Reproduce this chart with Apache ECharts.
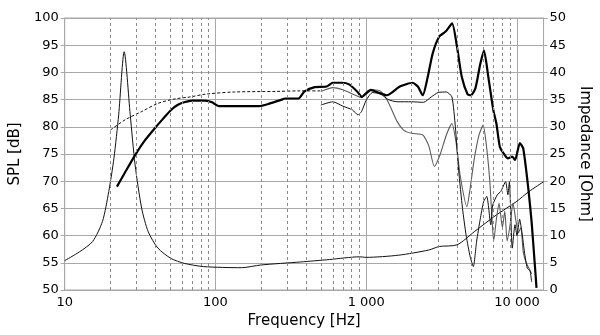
<!DOCTYPE html>
<html><head><meta charset="utf-8">
<script src="https://cdn.jsdelivr.net/npm/echarts@6/dist/echarts.min.js"></script>
<style>html,body{margin:0;padding:0;background:#fff}#c{width:600px;height:335px}</style>
</head><body><div id="c"></div>
<script>
// ---- data ----
const xMin = 10, xMax = 15000;
const xTickLabels = {10:'10', 100:'100', 1000:'1 000', 10000:'10 000'};
const minorGridFreqs = [20,30,40,50,60,70,80,90,200,300,400,500,600,700,800,900,2000,3000,4000,5000,6000,7000,8000,9000];

// on-axis SPL (thick)
const mainFreq = [22.2,25,29.3,34,39.5,45,50.7,56,62,70,85,95,105,150,195,230,270,290,355,390,455,545,600,690,770,870,935,1000,1070,1200,1370,1670,2030,2200,2370,2550,2760,3050,3360,3710,4000,4300,4700,4940,5300,5700,6040,6450,6960,7300,7700,8300,8700,9300,9700,10450,11000,11880,12490,13130,13470];
const mainSpl  = [69.0,71.5,74.8,77.5,79.7,81.5,83.1,84.0,84.5,84.8,84.8,84.5,83.8,83.8,83.8,84.3,84.9,85.2,85.2,86.5,87.3,87.4,88.1,88.1,87.8,86.5,85.5,86.2,86.8,86.3,85.8,87.4,88.1,87.4,85.8,89.0,93.5,96.6,97.5,99.0,94.7,89.2,86.0,85.8,87.1,91.5,94.0,89.2,83.1,80.6,76.3,74.8,74.2,74.5,73.9,77.0,76.0,68.7,62.6,54.6,50.4];

// low-frequency simulated / nearfield (dashed)
const dashFreq = [20.1,25.2,32.4,41.5,53.2,68.3,85.9,134,250,365,500];
const dashSpl  = [79.4,81.3,82.8,84.3,85.1,85.5,86.0,86.4,86.5,86.6,86.6];

// off-axis black (thin)
const offAFreq = [500,600,700,810,880,930,1000,1100,1250,1400,1600,2000,2400,2700,3000,3400,3700,3900,4100,4350,4600,4900,5130,5400,5700,6000,6300,6700,6900,7400,7800,8400,8700,8900,9300,9700,10000,10400,10800,11200,11700,12200,12500];
const offASpl  = [84.0,84.6,83.8,83.1,82.2,82.8,84.9,86.3,86.0,85.0,84.6,84.6,84.5,85.5,86.3,86.4,85.5,80.0,72.0,65.0,60.0,56.0,54.3,59.0,63.0,66.2,67.2,62.0,65.6,67.5,68.1,69.9,67.5,69.9,57.7,62.0,60.0,63.0,60.5,57.0,54.0,53.5,51.5];

// off-axis gray (thin)
const offBFreq = [500,600,700,850,930,1000,1100,1250,1400,1600,1770,2000,2370,2600,2830,3100,3400,3700,3950,4200,4650,4850,5200,5600,5960,6300,6600,6800,7000,7300,7600,8000,8300,8600,9000,9400,9800,10200,10600,11000,11500,12000,12500];
const offBSpl  = [86.5,87.2,86.8,85.8,85.4,86.0,86.8,86.5,84.5,81.0,79.4,78.8,78.5,76.5,72.7,75.0,78.5,80.6,77.0,71.0,65.3,68.0,74.0,78.5,80.3,76.0,70.0,64.0,59.0,63.0,66.0,61.5,64.5,59.0,62.0,66.0,63.0,60.5,61.5,57.0,55.0,54.0,53.0];

// impedance (right axis)
const impFreq = [10,12.5,15.3,17.8,19.6,21.2,22.8,24.8,27.2,29.3,32.4,35.8,41.5,50.7,62,83.5,149,200,365,570,900,1000,1640,2600,3050,4000,5200,7300,9860,12000,15000];
const impOhm  = [5.4,7.0,8.9,12.6,18.1,24.2,32.2,43.8,32.2,23.0,15.0,10.7,7.7,5.8,4.9,4.3,4.1,4.6,5.15,5.6,6.1,6.0,6.4,7.35,8.0,8.3,10.7,13.8,16.2,18.1,19.9];

const zip = (a, b) => a.map((v, i) => [v, b[i]]);

const font = 'DejaVu Sans';
const gridGray = '#a8a8a8';
const chart = echarts.init(document.getElementById('c'), null, {renderer: 'canvas'});
chart.setOption({
  animation: false,
  backgroundColor: '#fff',
  grid: {left: 60, right: 52, top: 18, bottom: 45, show: true, borderColor: gridGray, borderWidth: 1},
  xAxis: {
    type: 'log', logBase: 10, min: xMin, max: xMax,
    name: 'Frequency [Hz]', nameLocation: 'middle', nameGap: 23,
    nameTextStyle: {fontFamily: font, fontSize: 15, color: '#000'},
    axisLine: {show: true, lineStyle: {color: gridGray}},
    axisTick: {show: false},
    splitLine: {show: true, lineStyle: {color: gridGray, width: 1}},
    axisLabel: {fontFamily: font, fontSize: 13, color: '#000', margin: 6, showMaxLabel: false,
      formatter: v => xTickLabels[Math.round(v)] || ''}
  },
  yAxis: [{
    type: 'value', min: 50, max: 100, interval: 5, position: 'left',
    name: 'SPL [dB]', nameLocation: 'middle', nameGap: 40, nameRotate: 90,
    nameTextStyle: {fontFamily: font, fontSize: 15, color: '#000'},
    axisLine: {show: true, lineStyle: {color: gridGray}},
    axisTick: {show: true, length: 4, lineStyle: {color: gridGray}},
    splitLine: {show: true, lineStyle: {color: gridGray, width: 1}},
    axisLabel: {fontFamily: font, fontSize: 13, color: '#000', margin: 6}
  }, {
    type: 'value', min: 0, max: 50, interval: 5, position: 'right',
    name: 'Impedance [Ohm]', nameLocation: 'middle', nameGap: 33, nameRotate: -90,
    nameTextStyle: {fontFamily: font, fontSize: 15, color: '#000'},
    axisLine: {show: true, lineStyle: {color: gridGray}},
    axisTick: {show: true, length: 4, lineStyle: {color: gridGray}},
    splitLine: {show: false},
    axisLabel: {fontFamily: font, fontSize: 13, color: '#000', margin: 6}
  }],
  series: [
    {type: 'line', data: [], silent: true,
     markLine: {silent: true, symbol: 'none', label: {show: false},
       lineStyle: {color: '#8a8a8a', type: [3, 3], width: 1},
       data: minorGridFreqs.map(f => ({xAxis: f}))}},
    {type: 'line', name: 'imp', yAxisIndex: 1, data: zip(impFreq, impOhm), showSymbol: false, smooth: 0.25,
     lineStyle: {color: '#111', width: 1}},
    {type: 'line', name: 'dash', data: zip(dashFreq, dashSpl), showSymbol: false, smooth: 0.3,
     lineStyle: {color: '#111', width: 1, type: [3, 2]}},
    {type: 'line', name: 'offB', data: zip(offBFreq, offBSpl), showSymbol: false, smooth: 0.2,
     lineStyle: {color: '#5a5a5a', width: 1.1}},
    {type: 'line', name: 'offA', data: zip(offAFreq, offASpl), showSymbol: false, smooth: 0.2,
     lineStyle: {color: '#111', width: 1}},
    {type: 'line', name: 'main', data: zip(mainFreq, mainSpl), showSymbol: false, smooth: 0.2,
     lineStyle: {color: '#000', width: 2.2}}
  ]
});
</script></body></html>
